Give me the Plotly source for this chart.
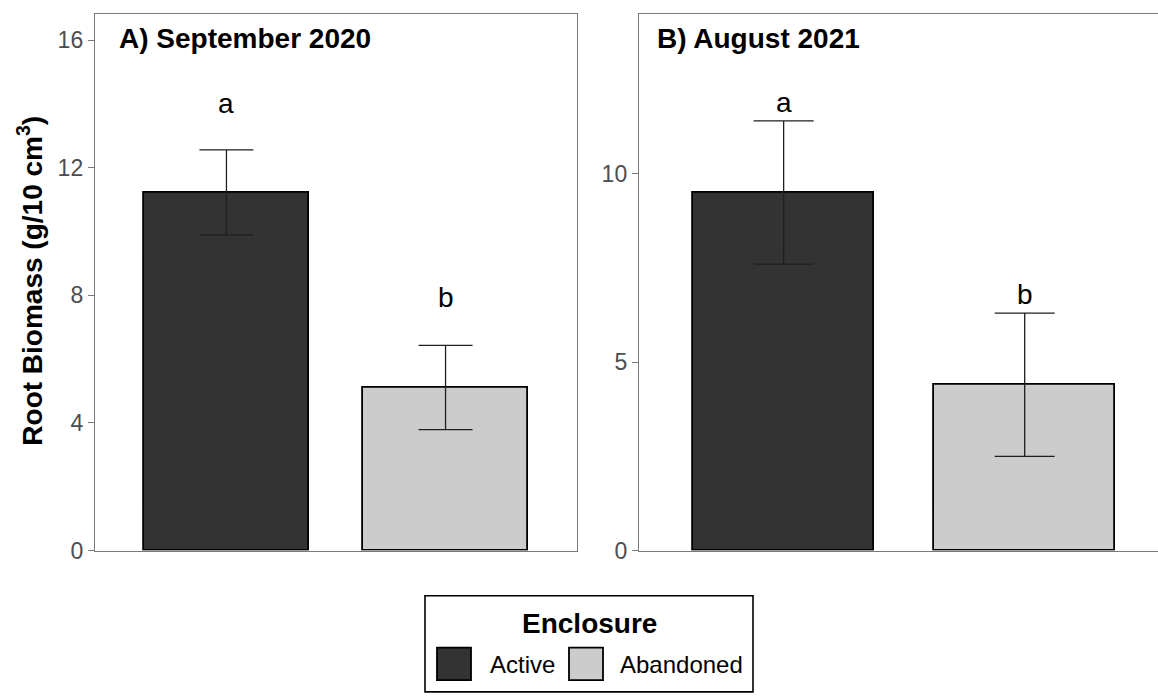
import plotly.graph_objects as go

# ---- data -------------------------------------------------------------
enclosure = ["Active", "Abandoned"]

# Panel A: September 2020
sep_mean = [11.23, 5.11]
sep_se = [1.33, 1.32]
sep_letters = ["a", "b"]
sep_letter_y = [14.03, 7.94]

# Panel B: August 2021
aug_mean = [9.50, 4.40]
aug_se = [1.90, 1.90]
aug_letters = ["a", "b"]
aug_letter_y = [11.88, 6.80]

panel_titles = ["A) September 2020", "B) August 2021"]
sep_ticks = [0, 4, 8, 12, 16]
aug_ticks = [0, 5, 10]

# ---- style ------------------------------------------------------------
W, H = 1158, 698
FONT = "Liberation Sans, Arial, Helvetica, sans-serif"
fill = {"Active": "#333333", "Abandoned": "#CCCCCC"}
frame = "#7a7a7a"
tick_col = "#4d4d4d"


def px(x):
    return x / W


def py(y):
    return 1 - y / H


fig = go.Figure()

panels = [
    (sep_mean, sep_se, sep_letters, sep_letter_y, "x", "y", 27),
    (aug_mean, aug_se, aug_letters, aug_letter_y, "x2", "y2", 30),
]
for mean, se, letters, ly, xa, ya, cap in panels:
    fig.add_trace(go.Bar(
        x=enclosure, y=mean, width=0.75,
        marker=dict(color=[fill[e] for e in enclosure],
                    line=dict(color="#000000", width=1.8)),
        error_y=dict(type="data", array=se, visible=True,
                     color="#1f1f1f", thickness=1.3, width=cap),
        xaxis=xa, yaxis=ya, showlegend=False, hoverinfo="skip",
    ))
    for e, t, yv in zip(enclosure, letters, ly):
        fig.add_annotation(x=e, y=yv, xref=xa, yref=ya, text=t,
                           showarrow=False, xanchor="center", yanchor="middle",
                           font=dict(family=FONT, size=28, color="#000000"))

y_dom = [py(561), py(14)]
common_x = dict(showticklabels=False, ticks="", showgrid=False, zeroline=False,
                showline=True, linecolor=frame, linewidth=1.4, mirror=True,
                categoryorder="array", categoryarray=enclosure)
common_y = dict(showgrid=False, zeroline=False, showline=True, linecolor=frame,
                linewidth=1.4, ticks="outside", ticklen=6, tickwidth=1.3,
                tickcolor=frame,
                tickfont=dict(family=FONT, size=23, color=tick_col))

fig.update_layout(
    width=W, height=H,
    margin=dict(l=0, r=0, t=0, b=0),
    plot_bgcolor="white", paper_bgcolor="white",
    bargap=0,
    xaxis=dict(domain=[px(95), px(577)], range=[-0.6, 1.6], anchor="y", **common_x),
    yaxis=dict(domain=y_dom, range=[0, 16.83], tickvals=sep_ticks, anchor="x",
               mirror=True, **common_y),
    xaxis2=dict(domain=[px(639), 1.0], range=[-0.6, 1.553], anchor="y2", **common_x),
    yaxis2=dict(domain=y_dom, range=[0, 14.24], tickvals=aug_ticks, anchor="x2",
                mirror=False, **common_y),
)

# panel titles
for title, x0 in zip(panel_titles, [117, 655]):
    fig.add_annotation(x=px(x0), y=py(39), xref="paper", yref="paper",
                       text="<b>%s</b>" % title, showarrow=False,
                       xanchor="left", yanchor="middle",
                       font=dict(family=FONT, size=28, color="#000000"))

# shared y-axis title
fig.add_annotation(x=px(30), y=py(286), xref="paper", yref="paper",
                   text="<b>Root Biomass (g/10 cm<sup>3</sup>)</b>",
                   textangle=-90, showarrow=False,
                   xanchor="center", yanchor="middle",
                   font=dict(family=FONT, size=28, color="#000000"))

# legend box below the panels
fig.add_shape(type="rect", xref="paper", yref="paper",
              x0=px(425), x1=px(753), y0=py(705), y1=py(607),
              line=dict(color="#000000", width=1.6), fillcolor="white")
fig.add_annotation(x=px(589), y=py(635), xref="paper", yref="paper",
                   text="<b>Enclosure</b>", showarrow=False,
                   xanchor="center", yanchor="middle",
                   font=dict(family=FONT, size=28, color="#000000"))
for e, sx, tx in zip(enclosure, [437, 569], [488, 618]):
    fig.add_shape(type="rect", xref="paper", yref="paper",
                  x0=px(sx), x1=px(sx + 34), y0=py(693), y1=py(660),
                  line=dict(color="#000000", width=1.8), fillcolor=fill[e])
    fig.add_annotation(x=px(tx), y=py(677), xref="paper", yref="paper",
                       text=e, showarrow=False, xanchor="left", yanchor="middle",
                       font=dict(family=FONT, size=24, color="#000000"))

fig.write_html("out.html")
